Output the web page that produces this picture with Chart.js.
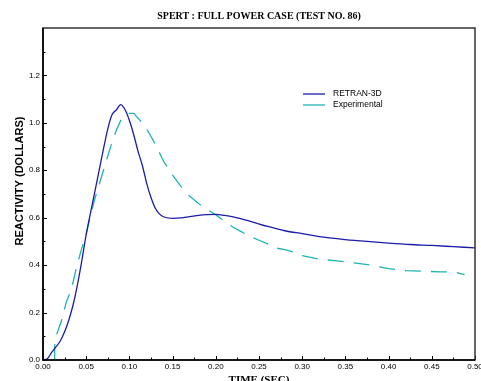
<!DOCTYPE html>
<html><head><meta charset="utf-8">
<script src="https://cdn.jsdelivr.net/npm/chart.js@4"></script>
<style>html,body{margin:0;padding:0;overflow:hidden;background:#fff}#wrap{width:481px;height:392px}</style>
</head><body><div id="wrap"><canvas id="c" width="481" height="392"></canvas></div>
<script>
const retranTime = [0, 0.005, 0.01, 0.015, 0.02, 0.025, 0.03, 0.035, 0.04, 0.045, 0.05, 0.055, 0.06, 0.065, 0.07, 0.075, 0.08, 0.085, 0.09, 0.095, 0.10, 0.105, 0.11, 0.115, 0.12, 0.125, 0.13, 0.135, 0.14, 0.15, 0.16, 0.17, 0.18, 0.19, 0.20, 0.21, 0.22, 0.24, 0.26, 0.28, 0.30, 0.325, 0.35, 0.375, 0.40, 0.425, 0.45, 0.475, 0.50];
const retranValues = [0, 0.005, 0.032, 0.055, 0.08, 0.119, 0.17, 0.235, 0.32, 0.42, 0.53, 0.62, 0.71, 0.80, 0.89, 0.975, 1.035, 1.055, 1.077, 1.055, 1.01, 0.95, 0.88, 0.82, 0.745, 0.685, 0.64, 0.615, 0.603, 0.597, 0.599, 0.605, 0.61, 0.613, 0.614, 0.61, 0.604, 0.585, 0.563, 0.545, 0.533, 0.518, 0.508, 0.500, 0.493, 0.487, 0.483, 0.478, 0.473];
const expTime = [0.0135, 0.0135, 0.0155, 0.021, 0.027, 0.033, 0.0385, 0.044, 0.05, 0.055, 0.06, 0.065, 0.07, 0.075, 0.08, 0.085, 0.09, 0.095, 0.10, 0.105, 0.11, 0.115, 0.12, 0.13, 0.14, 0.15, 0.16, 0.17, 0.18, 0.19, 0.20, 0.21, 0.22, 0.23, 0.24, 0.25, 0.26, 0.27, 0.28, 0.29, 0.30, 0.32, 0.34, 0.36, 0.38, 0.40, 0.42, 0.44, 0.46, 0.475, 0.488];
const expValues = [0, 0.06, 0.105, 0.161, 0.245, 0.30, 0.386, 0.46, 0.53, 0.61, 0.68, 0.74, 0.80, 0.86, 0.92, 0.97, 1.01, 1.03, 1.04, 1.04, 1.02, 1.00, 0.975, 0.91, 0.835, 0.78, 0.73, 0.69, 0.66, 0.635, 0.612, 0.585, 0.56, 0.54, 0.52, 0.505, 0.49, 0.472, 0.465, 0.455, 0.44, 0.425, 0.418, 0.41, 0.40, 0.385, 0.377, 0.374, 0.372, 0.372, 0.36];
const seriesNames = ['RETRAN-3D', 'Experimental'];
const chartTitle = 'SPERT : FULL POWER CASE (TEST NO. 86)';
const xTitle = 'TIME (SEC)';
const yTitle = 'REACTIVITY (DOLLARS)';

const BLUE = '#1c1caa', CYAN = '#1fb3b3';

const framePlugin = {
  id: 'frame',
  afterDraw(chart) {
    const {ctx, chartArea: a, scales: {x, y}} = chart;
    ctx.save();
    ctx.strokeStyle = '#000'; ctx.lineWidth = 1;
    for (let i = 0; i <= 20; i++) {
      const v = i * 0.025;
      const px = Math.round(x.getPixelForValue(v)) + 0.5;
      const len = (i % 2 === 0) ? 4 : 2.5;
      ctx.beginPath(); ctx.moveTo(px, a.bottom); ctx.lineTo(px, a.bottom - len); ctx.stroke();
    }
    for (let i = 0; i <= 13; i++) {
      const v = i * 0.1;
      const py = Math.round(y.getPixelForValue(v)) + 0.5;
      const len = (i % 2 === 0) ? 4 : 2.5;
      ctx.beginPath(); ctx.moveTo(a.left, py); ctx.lineTo(a.left + len, py); ctx.stroke();
    }
    ctx.strokeStyle = '#333'; ctx.lineWidth = 1.5;
    ctx.strokeRect(a.left, a.top, a.right - a.left, a.bottom - a.top);
    ctx.strokeStyle = '#000'; ctx.lineWidth = 1.6;
    ctx.beginPath(); ctx.moveTo(a.left, a.top); ctx.lineTo(a.left, a.bottom); ctx.lineTo(a.right, a.bottom); ctx.stroke();
    const items = [[seriesNames[0], BLUE, 94], [seriesNames[1], CYAN, 105]];
    ctx.font = '8.5px "Liberation Sans", Arial, sans-serif';
    ctx.textBaseline = 'middle'; ctx.textAlign = 'left';
    items.forEach(([t, c, yy]) => {
      ctx.strokeStyle = c; ctx.lineWidth = 1.3;
      ctx.beginPath(); ctx.moveTo(303, yy); ctx.lineTo(325, yy); ctx.stroke();
      ctx.fillStyle = '#000'; ctx.fillText(t, 333, yy);
    });
    ctx.translate(20, 181); ctx.rotate(-Math.PI / 2);
    ctx.font = 'bold 11px "Liberation Sans", Arial, sans-serif';
    ctx.textAlign = 'center'; ctx.fillStyle = '#000';
    ctx.fillText(yTitle, 0, 0);
    ctx.restore();
  }
};

new Chart(document.getElementById('c'), {
  type: 'line',
  data: {
    datasets: [
      { label: seriesNames[0], data: retranTime.map((t, i) => ({x: t, y: retranValues[i]})),
        borderColor: BLUE, borderWidth: 1.3, pointRadius: 0, cubicInterpolationMode: 'monotone', fill: false },
      { label: seriesNames[1], data: expTime.map((t, i) => ({x: t, y: expValues[i]})),
        borderColor: CYAN, borderWidth: 1.3, borderDash: [16, 10], pointRadius: 0, tension: 0, fill: false }
    ]
  },
  options: {
    responsive: false, animation: false, devicePixelRatio: 1,
    layout: { padding: { left: 0, right: 6, top: 0, bottom: 0 } },
    plugins: {
      legend: { display: false }, tooltip: { enabled: false },
      title: { display: true, text: chartTitle, fullSize: false, color: '#000',
        font: { family: '"Liberation Serif", "Times New Roman", serif', size: 10, weight: 'bold', lineHeight: 1.2 },
        padding: { top: 10, bottom: 6 } }
    },
    scales: {
      x: { type: 'linear', min: 0, max: 0.5,
        grid: { display: false, drawTicks: false }, border: { display: false },
        ticks: { stepSize: 0.05, autoSkip: false, maxRotation: 0, padding: 2, color: '#000',
          font: { family: '"Liberation Sans", Arial, sans-serif', size: 8 },
          callback: v => v.toFixed(2) },
        title: { display: true, text: xTitle, color: '#000',
          font: { family: '"Liberation Serif", "Times New Roman", serif', size: 11, weight: 'bold', lineHeight: 1.2 },
          padding: { top: 0, bottom: 5.4 } },
        afterFit: s => { s.height = 32; s.paddingLeft = 0; s.paddingRight = 0; }
      },
      y: { type: 'linear', min: 0, max: 1.4,
        grid: { display: false, drawTicks: false }, border: { display: false },
        ticks: { stepSize: 0.2, autoSkip: false, padding: 3, color: '#000',
          font: { family: '"Liberation Sans", Arial, sans-serif', size: 8 },
          callback: v => v > 1.3 ? '' : v.toFixed(1) },
        afterFit: s => { s.width = 43; s.paddingTop = 0; s.paddingBottom = 0; }
      }
    }
  },
  plugins: [framePlugin]
});
</script></body></html>
